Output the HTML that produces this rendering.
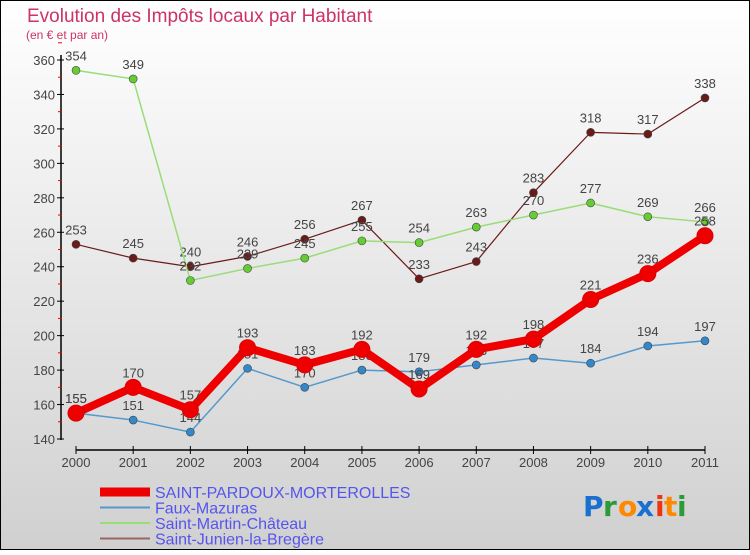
<!DOCTYPE html>
<html><head><meta charset="utf-8"><style>
html,body{margin:0;padding:0}
body{width:750px;height:550px;overflow:hidden;font-family:"Liberation Sans",sans-serif}
</style></head><body>
<svg id="chart" width="750" height="550" xmlns="http://www.w3.org/2000/svg">
<defs><linearGradient id="bg" x1="0" y1="0" x2="0" y2="1"><stop offset="0" stop-color="#ffffff"/><stop offset="1" stop-color="#d0d0d0"/></linearGradient></defs>
<rect x="0.5" y="0.5" width="749" height="549" fill="url(#bg)" stroke="#000"/>
<text x="27" y="22" font-size="19" fill="#cc3366">Evolution des Impôts locaux par Habitant</text>
<text x="26" y="39" font-size="12" fill="#cc3366">(en € et par an)</text>
<g id="axes"></g><g id="series"></g><g id="legend"></g>
<g font-size="28" font-weight="bold" font-family="'DejaVu Sans',sans-serif">
<text x="583" y="516" fill="#1a6fd0">P</text><text x="603" y="516" fill="#2a9a3a">r</text><text x="618" y="516" fill="#ff8800">o</text><text x="636" y="516" fill="#1a6fd0">x</text><text x="655" y="516" fill="#ee3311">i</text><text x="664" y="516" fill="#ff8800">t</text><text x="677" y="516" fill="#2a9a3a">i</text></g>
</svg>
<script>
const years=["2000","2001","2002","2003","2004","2005","2006","2007","2008","2009","2010","2011"];
const seriesNames=["SAINT-PARDOUX-MORTEROLLES","Faux-Mazuras","Saint-Martin-Château","Saint-Junien-la-Bregère"];
const valsMain=[155,170,157,193,183,192,169,192,198,221,236,258];
const valsFaux=[155,151,144,181,170,180,179,183,187,184,194,197];
const valsMartin=[354,349,232,239,245,255,254,263,270,277,269,266];
const valsJunien=[253,245,240,246,256,267,233,243,283,318,317,338];
const yTicks=[140,160,180,200,220,240,260,280,300,320,340,360];
const NS="http://www.w3.org/2000/svg";
const x=i=>76+i*(705-76)/(years.length-1);
const y=v=>439-(v-140)*(439-60)/220;
function mk(t,a,p){const e=document.createElementNS(NS,t);for(const k in a)e.setAttribute(k,a[k]);p.appendChild(e);return e;}
const ax=document.getElementById('axes');
const ya=mk('line',{x1:61,y1:55,x2:61,y2:440,stroke:'#000','stroke-width':1.5},ax);


yTicks.forEach(v=>{
  mk('line',{x1:57,y1:y(v),x2:64,y2:y(v),stroke:'#000'},ax);
  mk('line',{x1:58,y1:y(v+10),x2:62,y2:y(v+10),stroke:'#e00'},ax);
  const t=mk('text',{x:55,y:y(v)+5,'text-anchor':'end','font-size':13,fill:'#444'},ax);
  t.textContent=v;
  
  
});
const xa=mk('line',{x1:76,y1:450,x2:705,y2:450,stroke:'#000','stroke-width':1.5},ax);


years.forEach((yr,i)=>{
  mk('line',{x1:x(i),y1:446,x2:x(i),y2:454,stroke:'#000'},ax);
  const t=mk('text',{x:x(i),y:467,'text-anchor':'middle','font-size':13,fill:'#444'},ax);
  t.textContent=yr;
  
  
});
const sg=document.getElementById('series');
const defs=[[valsJunien,'#6b1a1a','#6b1a1a',1.2,4,'junien'],[valsMartin,'#99dd77','#66cc33',1.5,4,'martin'],[valsFaux,'#5599cc','#3388cc',1.5,4,'faux'],[valsMain,'#ee0000','#ee0000',8,8,'main']];
defs.forEach(([vals,lc,pc,w,r,nm])=>{
  const g=mk('g',{},sg);
  
  
  const pl=mk('polyline',{points:vals.map((v,i)=>x(i)+','+y(v)).join(' '),fill:'none',stroke:lc,'stroke-width':w,'stroke-linejoin':'round'},g);
  
  
  vals.forEach((v,i)=>{
    const c=mk('circle',{cx:x(i),cy:y(v),r:r,fill:pc,stroke:nm=='main'?'#dd0000':'#444','stroke-width':nm=='main'?1:0.6},g);
    
    
    const t=mk('text',{x:x(i),y:y(v)-10,'text-anchor':'middle','font-size':13,fill:'#444'},g);
    t.textContent=v;
    
    
  });
});
const lg=document.getElementById('legend');
const lstyles=[['#ee0000',9],['#5599cc',2],['#99dd77',2],['#996666',2]];
seriesNames.forEach((n,i)=>{
  const yy=492+i*15.5;
  const g=mk('g',{},lg);
  
  
  mk('line',{x1:100,y1:yy,x2:150,y2:yy,stroke:lstyles[i][0],'stroke-width':lstyles[i][1]},g);
  const t=mk('text',{x:155,y:yy+6,'font-size':16,fill:'#5555ee'},g);
  t.textContent=n;
});
</script>
</body></html>
